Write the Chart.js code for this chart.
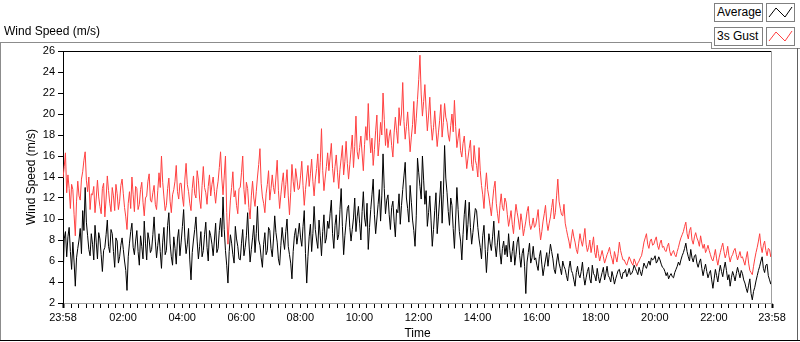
<!DOCTYPE html>
<html>
<head>
<meta charset="utf-8">
<script src="https://cdn.jsdelivr.net/npm/chart.js@4.4.0/dist/chart.umd.min.js"></script>
<style>
  body { margin: 0; background: #fff; font-family: "Liberation Sans", Arial, sans-serif; }
  #wrap { position: relative; width: 800px; height: 342px; overflow: hidden; }
  #wrap canvas { position: absolute; left: 0; top: 0; }
  .ln { position: absolute; }
  .title { position: absolute; left: 4px; top: 24px; font-size: 12px; color: #000; }
  .lgText, .lgIcon { position: absolute; box-sizing: border-box; height: 19px; border: 1px solid #808080; background: #fff; }
  .lgText { left: 714px; width: 49px; font-size: 12px; line-height: 17px; padding-left: 2px; color: #000; }
  .lgIcon { left: 766px; width: 29px; }
</style>
</head>
<body>
<div id="wrap">
  <canvas id="wind" width="800" height="342"></canvas>
  <div class="title">Wind Speed (m/s)</div>
  <!-- panel frame -->
  <div class="ln" style="left:0;top:42px;width:711px;height:1px;background:#8c8c8c"></div>
  <div class="ln" style="left:711px;top:42px;width:1px;height:7px;background:#8c8c8c"></div>
  <div class="ln" style="left:711px;top:48px;width:89px;height:1px;background:#8c8c8c"></div>
  <div class="ln" style="left:0;top:42px;width:1px;height:299px;background:#8c8c8c"></div>
  <div class="ln" style="left:797px;top:48px;width:1px;height:293px;background:#606060"></div>
  <div class="ln" style="left:0;top:340px;width:800px;height:1px;background:#000"></div>
  <!-- legend -->
  <div class="lgText" style="top:3px">Average</div>
  <div class="lgIcon" style="top:3px"><svg width="27" height="17"><polyline points="2,13 9,4 18,13 25,3" fill="none" stroke="#000" stroke-width="1"/></svg></div>
  <div class="lgText" style="top:27px">3s Gust</div>
  <div class="lgIcon" style="top:27px"><svg width="27" height="17"><polyline points="2,13 9,4 18,13 25,3" fill="none" stroke="#ff4040" stroke-width="1"/></svg></div>
</div>
<script>
// one sample every 2.5 minutes, starting at 23:58
const sampleMinutes = 2.5;

// average wind speed (m/s), one row per hour
const avgSpeed = [
  4.0, 8.1, 8.8, 6.4, 8.3, 9.2, 6.9, 5.2, 7.8, 5.9, 3.6, 6.3, 7.2, 8.0, 9.1, 6.7, 10.8, 8.9, 13.0, 9.7, 8.4, 7.1, 6.5, 8.6,
  7.6, 6.1, 9.4, 7.8, 6.2, 8.7, 8.1, 6.6, 5.0, 7.0, 7.3, 8.5, 9.9, 7.4, 6.8, 9.0, 8.6, 6.9, 5.4, 8.2, 7.9, 5.8, 6.4, 7.5,
  8.2, 7.1, 6.0, 5.1, 3.2, 6.4, 7.7, 8.8, 9.6, 7.3, 6.6, 7.9, 8.9, 6.9, 5.6, 8.4, 7.4, 6.2, 9.8, 7.7, 6.1, 8.7, 8.0, 6.8,
  7.1, 8.5, 10.2, 7.9, 6.3, 7.5, 8.6, 6.9, 5.3, 7.8, 9.2, 6.6, 7.0, 9.4, 10.6, 7.7, 6.4, 5.6, 8.3, 7.2, 5.7, 8.1, 9.0, 6.5,
  7.8, 9.3, 10.9, 8.2, 6.7, 7.6, 9.1, 6.1, 4.2, 6.8, 8.0, 9.0, 10.2, 7.9, 6.2, 7.4, 8.8, 6.4, 7.0, 8.5, 9.7, 7.3, 6.0, 8.9,
  8.4, 7.6, 6.5, 8.0, 9.6, 6.8, 7.2, 8.9, 10.1, 8.3, 12.1, 9.0, 7.0, 5.6, 3.9, 6.9, 8.5, 7.7, 6.6, 5.8, 9.3, 8.1, 7.4, 6.2,
  6.1, 7.7, 9.0, 6.5, 7.3, 8.4, 10.6, 7.9, 5.9, 7.1, 8.2, 9.4, 6.8, 8.6, 11.2, 8.0, 7.5, 6.3, 5.4, 7.6, 8.7, 6.6, 7.0, 9.2,
  8.9, 7.2, 6.4, 8.1, 10.3, 8.7, 7.8, 6.2, 5.6, 7.5, 9.2, 8.0, 7.1, 8.8, 10.0, 7.4, 6.6, 5.8, 4.3, 6.9, 8.4, 9.1, 7.6, 8.5,
  9.6, 8.2, 7.4, 9.3, 10.8, 6.7, 3.9, 6.4, 8.3, 9.5, 6.9, 8.6, 11.2, 9.0, 8.0, 7.2, 9.9, 8.4, 6.5, 8.8, 10.4, 7.7, 8.2, 9.8,
  9.1, 10.5, 11.8, 8.6, 7.2, 9.4, 10.4, 8.0, 8.5, 10.9, 12.9, 9.3, 6.6, 8.4, 9.7, 11.0, 11.3, 9.2, 7.9, 9.0, 10.1, 12.0, 8.8, 10.2,
  11.2, 9.6, 8.0, 10.7, 12.6, 10.1, 9.3, 11.5, 7.1, 9.2, 10.9, 12.3, 13.8, 10.4, 8.6, 10.0, 11.4, 12.8, 9.8, 12.2, 16.2, 12.9, 10.5, 11.8,
  12.3, 10.4, 9.0, 11.1, 11.7, 9.8, 8.3, 10.9, 10.6, 12.4, 9.5, 11.3, 12.8, 14.1, 15.4, 12.0, 11.0, 9.7, 13.2, 11.6, 9.9, 8.9, 7.4, 10.3,
  15.8, 14.4, 13.1, 11.9, 16.0, 13.7, 11.4, 12.7, 9.3, 10.6, 12.2, 9.9, 7.4, 9.0, 10.8, 12.5, 8.6, 10.2, 11.9, 13.6, 9.6, 12.3, 17.0, 13.9,
  12.5, 10.7, 9.4, 12.0, 11.3, 9.1, 7.2, 10.0, 13.0, 10.9, 8.8, 7.9, 6.1, 8.5, 10.4, 11.8, 8.0, 9.5, 11.6, 9.2, 7.6, 8.7, 9.9, 11.0,
  10.8, 9.2, 8.1, 7.3, 6.2, 8.4, 9.4, 7.1, 4.9, 6.9, 8.6, 7.7, 7.0, 8.3, 9.8, 7.5, 6.4, 7.8, 8.9, 6.8, 5.7, 7.2, 7.9, 6.6,
  7.5, 6.4, 8.6, 7.0, 5.9, 6.9, 7.9, 5.6, 6.6, 7.8, 8.3, 6.5, 5.4, 6.7, 7.2, 5.5, 2.9, 5.9, 6.8, 7.7, 5.8, 6.3, 7.4, 6.1,
  6.3, 5.6, 5.1, 6.4, 7.0, 5.7, 4.6, 5.4, 6.1, 6.8, 5.5, 6.6, 7.6, 6.9, 6.2, 5.2, 4.8, 5.9, 6.7, 5.8, 5.3, 4.7, 6.0, 5.5,
  5.2, 4.6, 4.1, 5.3, 6.0, 5.1, 4.8, 4.2, 3.6, 4.9, 5.5, 4.7, 4.4, 5.0, 5.9, 4.5, 3.7, 4.4, 5.0, 5.4, 4.3, 3.9, 5.6, 4.8,
  4.6, 4.1, 5.3, 4.5, 3.9, 4.4, 4.9, 5.4, 4.2, 4.8, 5.5, 4.6, 4.4, 4.0, 5.0, 4.5, 3.8, 4.3, 4.7, 5.1, 5.2, 4.6, 4.3, 4.9,
  4.9, 5.2, 4.5, 4.8, 5.3, 4.7, 4.8, 5.1, 5.6, 5.3, 5.0, 4.7, 5.4, 5.0, 4.6, 5.2, 5.8, 5.5, 5.3, 5.7, 6.0, 5.6, 6.3, 6.1,
  6.2, 6.5, 5.8, 6.0, 6.4, 6.1, 5.7, 5.4, 5.3, 5.0, 4.6, 4.9, 4.3, 4.6, 4.8, 4.5, 4.4, 4.9, 5.2, 5.5, 5.9, 5.6, 6.1, 6.5,
  6.8, 7.2, 7.7, 6.9, 6.4, 6.0, 7.1, 6.3, 5.9, 6.5, 6.6, 5.8, 5.4, 5.9, 6.2, 5.3, 4.6, 5.2, 5.7, 5.0, 4.4, 4.8, 5.1, 4.2,
  3.4, 4.3, 5.2, 4.6, 4.0, 4.9, 5.6, 5.0, 4.5, 5.3, 5.9, 5.1, 4.2, 4.7, 3.6, 4.4, 5.0, 4.6, 4.1, 4.8, 5.4, 4.9, 4.4, 5.1,
  4.8, 4.2, 3.9, 3.4, 3.0, 3.7, 4.3, 2.9, 2.3, 3.1, 3.5, 4.1, 4.6, 5.1, 5.5, 6.0, 6.4, 5.3, 4.9, 5.6, 5.7, 4.6, 4.2, 3.8,
  4.4
];

// 3 second gust (m/s), one row per hour
const gustSpeed = [
  13.9, 15.0, 16.3, 12.5, 14.2, 12.9, 11.0, 13.3, 12.8, 10.4, 8.4, 11.7, 13.6, 12.2, 11.8, 13.8, 14.5, 15.6, 16.4, 13.7, 12.6, 14.0, 10.9, 12.4,
  12.3, 13.1, 10.6, 12.0, 13.7, 12.1, 11.2, 10.5, 12.9, 13.4, 10.2, 11.9, 14.1, 12.7, 11.5, 10.7, 13.0, 12.2, 10.8, 13.3, 12.4, 10.9, 11.7, 13.2,
  13.8, 12.4, 11.1, 10.2, 9.0, 11.5, 12.6, 11.0, 14.0, 12.3, 10.7, 13.1, 12.9, 10.9, 11.4, 12.8, 13.5, 11.6, 10.3, 12.0, 12.2, 13.6, 14.3, 11.8,
  11.6, 12.5, 13.2, 11.4, 10.9, 12.7, 14.4, 13.0, 16.0, 13.5, 12.1, 10.8, 11.3, 12.9, 13.9, 11.7, 10.6, 12.3, 12.8, 13.6, 15.1, 12.6, 11.9, 13.4,
  13.4, 12.1, 11.2, 13.8, 15.3, 13.3, 12.6, 11.5, 10.8, 12.9, 14.1, 12.4, 12.0, 14.6, 13.7, 11.9, 11.0, 13.2, 15.0, 13.0, 12.5, 11.4, 13.1, 14.2,
  12.2, 13.3, 14.0, 12.6, 11.5, 12.8, 13.6, 14.9, 16.4, 13.9, 12.3, 14.1, 16.0, 10.6, 7.6, 9.8, 11.8, 13.0, 14.5, 12.1, 12.7, 11.3, 10.5, 12.9,
  13.0, 14.4, 16.0, 12.8, 11.4, 13.5, 12.9, 11.1, 10.0, 12.2, 13.6, 12.0, 11.2, 12.6, 14.0, 15.2, 16.7, 13.4, 12.1, 11.5, 10.6, 12.4, 13.3, 14.6,
  11.8, 12.9, 14.2, 13.0, 12.4, 14.0, 15.6, 12.7, 11.0, 12.3, 13.5, 14.4, 12.0, 13.3, 14.7, 12.2, 10.4, 12.5, 15.2, 13.6, 12.6, 14.8, 13.9, 12.8,
  12.9, 14.1, 15.5, 13.2, 11.3, 12.8, 14.0, 15.1, 13.1, 14.3, 15.7, 13.6, 12.2, 13.8, 14.8, 16.2, 13.4, 15.4, 18.6, 14.6, 12.7, 13.9, 15.0, 16.3,
  14.6, 15.9, 17.2, 14.8, 13.5, 15.0, 16.1, 14.4, 12.9, 14.7, 15.8, 17.0, 14.2, 15.5, 17.4, 15.3, 13.8, 15.2, 16.6, 18.0, 14.9, 16.9, 19.8, 16.4,
  15.7, 16.8, 17.9, 16.2, 14.6, 17.1, 18.8, 17.5, 21.0, 18.1, 16.3, 17.7, 15.1, 16.6, 18.4, 19.9, 16.0, 17.3, 19.2, 18.0, 22.0, 19.5, 17.0, 18.6,
  16.8, 17.9, 18.5, 17.0, 15.9, 18.2, 19.7, 18.4, 17.2, 20.6, 18.9, 20.0, 23.0, 19.3, 17.6, 18.8, 20.2, 18.3, 16.4, 17.8, 19.0, 21.2, 18.1, 19.6,
  21.4, 23.3, 25.6, 21.9, 19.8, 21.2, 22.8, 20.4, 18.4, 19.9, 21.6, 19.0, 17.5, 18.7, 20.3, 18.5, 16.9, 18.2, 19.4, 20.9, 17.8, 19.2, 21.0, 19.7,
  19.2, 18.0, 17.4, 18.9, 20.0, 18.3, 21.3, 18.8, 16.8, 17.7, 18.6, 16.5, 15.9, 17.2, 17.9, 16.3, 14.8, 15.8, 16.7, 17.5, 15.2, 14.6, 17.0, 15.6,
  15.1, 14.0, 16.8, 14.6, 13.2, 12.3, 11.0, 13.0, 14.4, 12.8, 12.1, 11.2, 10.3, 11.7, 12.9, 13.6, 11.5, 10.5, 9.6, 11.3, 12.4, 11.1, 10.8, 12.0,
  11.6, 10.4, 9.3, 10.0, 10.8, 9.5, 8.6, 10.2, 11.4, 10.6, 9.9, 9.0, 10.5, 9.7, 8.4, 9.1, 9.8, 10.7, 11.2, 9.6, 9.0, 9.4, 10.1, 9.2,
  9.4, 10.1, 10.9, 9.2, 8.0, 8.8, 9.8, 10.5, 11.3, 9.7, 8.9, 9.6, 10.2, 11.1, 11.9, 10.0, 10.6, 12.2, 13.8, 11.7, 11.0, 10.4, 10.3, 11.4,
  9.6, 9.0, 8.4, 7.9, 7.2, 8.1, 9.0, 8.3, 7.8, 7.1, 6.7, 7.7, 8.6, 7.9, 7.4, 8.2, 9.1, 7.6, 6.9, 7.3, 8.0, 6.8, 7.5, 8.3,
  6.8, 6.3, 7.5, 6.7, 6.0, 6.5, 7.0, 6.4, 5.8, 6.2, 6.6, 6.9, 7.3, 6.6, 6.2, 5.7, 6.9, 6.4, 5.9, 6.7, 7.8, 7.0, 6.5, 6.1,
  6.1, 5.8, 5.6, 6.0, 6.4, 6.1, 5.8, 5.6, 6.2, 5.9, 5.5, 5.8, 6.0, 6.3, 6.5, 7.1, 7.8, 8.2, 8.6, 7.6, 7.2, 7.9, 8.1, 7.5,
  7.6, 8.0, 8.3, 7.5, 7.1, 7.7, 8.0, 7.3, 7.4, 7.0, 6.9, 7.4, 7.7, 6.9, 6.5, 6.8, 7.0, 6.6, 6.4, 6.9, 7.3, 7.8, 8.2, 8.5,
  8.8, 9.3, 9.7, 8.6, 8.1, 8.9, 9.2, 8.0, 7.6, 8.3, 8.7, 8.2, 7.9, 7.4, 8.4, 7.7, 7.2, 7.6, 6.8, 7.1, 7.5, 7.0, 6.6, 6.2,
  6.0, 6.5, 7.1, 6.2, 5.6, 6.3, 6.8, 7.3, 7.7, 6.9, 6.3, 6.7, 7.4, 6.5, 5.9, 6.4, 6.6, 7.0, 7.2, 6.6, 6.1, 6.5, 6.9, 6.3,
  6.4, 6.0, 5.6, 6.3, 6.9, 5.8, 5.1, 4.9, 4.7, 5.5, 6.2, 6.8, 7.3, 7.9, 8.6, 7.4, 6.8, 7.5, 7.9, 7.0, 6.5, 7.2, 7.1, 6.4,
  6.8
];

// x axis: minutes since 23:58, labels every two hours
const spanMinutes = 1440;
const startLabel = '23:58';
const hourLabels = ['02:00', '04:00', '06:00', '08:00', '10:00', '12:00', '14:00', '16:00', '18:00', '20:00', '22:00'];

const toPoints = arr => arr.map((v, i) => ({ x: i * sampleMinutes, y: v }));

// tick every quarter hour (00:15 = minute 17), plus both ends
const xTickValues = [0];
for (let m = 17; m < spanMinutes; m += 15) xTickValues.push(m);
xTickValues.push(spanMinutes);

function timeLabel(v) {
  if (v === 0 || v === spanMinutes) return startLabel;
  const k = (v - 2) / 120;
  if (Number.isInteger(k) && k >= 1 && k <= hourLabels.length) return hourLabels[k - 1];
  return '';
}

const tickFont = { family: '"Liberation Sans", Arial, sans-serif', size: 11 };
const titleFont = { family: '"Liberation Sans", Arial, sans-serif', size: 12 };

// top and right edge of the plot box
const plotFrame = {
  id: 'plotFrame',
  afterDraw(chart) {
    const { ctx, chartArea: a } = chart;
    ctx.save();
    ctx.lineWidth = 1;
    ctx.strokeStyle = '#000';
    ctx.beginPath(); ctx.moveTo(a.left, a.top + 0.5); ctx.lineTo(a.right, a.top + 0.5); ctx.stroke();
    ctx.strokeStyle = '#a0a0a0';
    ctx.beginPath(); ctx.moveTo(a.right - 0.5, a.top); ctx.lineTo(a.right - 0.5, a.bottom); ctx.stroke();
    ctx.restore();
  }
};

new Chart(document.getElementById('wind'), {
  type: 'line',
  data: {
    datasets: [
      { label: 'Average', data: toPoints(avgSpeed), borderColor: '#000', borderWidth: 1, pointRadius: 0, tension: 0 },
      { label: '3s Gust', data: toPoints(gustSpeed), borderColor: '#ff4040', borderWidth: 1, pointRadius: 0, tension: 0 }
    ]
  },
  options: {
    responsive: false,
    animation: false,
    layout: { padding: { left: 0, top: 51, right: 28, bottom: 0 } },
    plugins: { legend: { display: false }, tooltip: { enabled: false } },
    scales: {
      x: {
        type: 'linear',
        min: 0,
        max: spanMinutes,
        afterBuildTicks: s => { s.ticks = xTickValues.map(v => ({ value: v })); },
        afterFit: s => { s.height = 39; },
        ticks: { autoSkip: false, maxRotation: 0, padding: 3, color: '#000', font: tickFont, callback: v => timeLabel(v) },
        grid: {
          drawOnChartArea: false, tickLength: 5, tickColor: '#000',
          tickWidth: c => (c.tick && (c.tick.value === 0 || c.tick.value === spanMinutes)) ? 2 : 1
        },
        border: { color: '#a0a0a0', width: 1 },
        title: { display: true, text: 'Time', color: '#000', font: titleFont, padding: { top: 0, bottom: 1 } }
      },
      y: {
        min: 2,
        max: 26,
        afterFit: s => { s.width = 63; },
        ticks: { stepSize: 2, padding: 3, color: '#000', font: tickFont },
        grid: { drawOnChartArea: false, tickLength: 5, tickColor: '#000' },
        border: { color: '#000', width: 1 },
        title: { display: true, text: 'Wind Speed (m/s)', color: '#000', font: titleFont, padding: { top: 24, bottom: 0 } }
      }
    }
  },
  plugins: [plotFrame]
});
</script>
</body>
</html>
